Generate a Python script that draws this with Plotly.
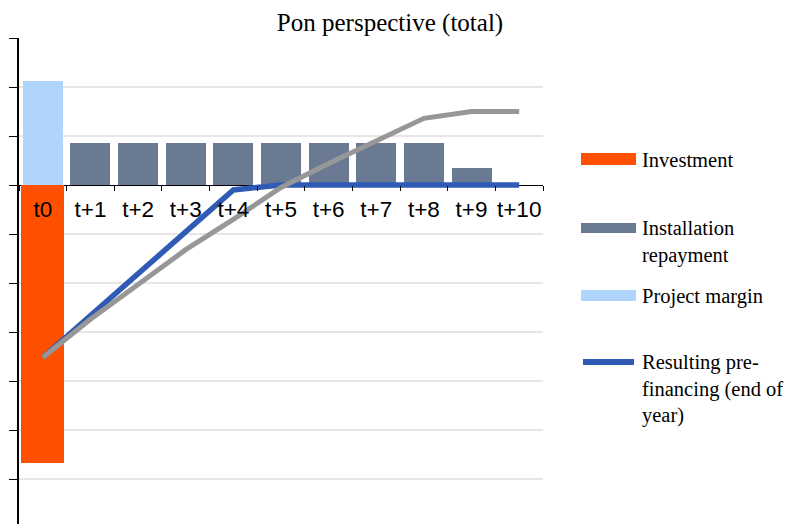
import plotly.graph_objects as go

# ---- data ----
categories = ["t0", "t+1", "t+2", "t+3", "t+4", "t+5", "t+6", "t+7", "t+8", "t+9", "t+10"]
investment = [-5.67, None, None, None, None, None, None, None, None, None, None]
installation_repayment = [None, 0.86, 0.86, 0.86, 0.86, 0.86, 0.86, 0.86, 0.86, 0.34, None]
project_margin = [2.12, None, None, None, None, None, None, None, None, None, None]
pre_financing = [-3.52, -2.66, -1.83, -0.97, -0.10, 0, 0, 0, 0, 0, 0]
cumulative = [-3.52, -2.74, -2.03, -1.32, -0.70, -0.05, 0.44, 0.90, 1.36, 1.50, 1.50]

legend_labels = ["Investment", "Installation<br>repayment", "Project margin",
                 "Resulting pre-<br>financing (end of<br>year)"]
title_text = "Pon perspective (total)"

# ---- styles ----
C_INV = "#FF5000"
C_INST = "#6A7A92"
C_MARGIN = "#AFD5FC"
C_BLUE = "#2F5BB5"
C_GRAY = "#979797"
SERIF = "Liberation Serif, Times New Roman, serif"
SANS = "Liberation Sans, Arial, sans-serif"

W, H = 797, 524
ML, MR, MT, MB = 19, 254, 38, 0
Y_MIN, Y_MAX = -6.918, 3

fig = go.Figure()
fig.add_trace(go.Bar(x=categories, y=investment, name="Investment",
                     marker=dict(color=C_INV, line=dict(width=0)), width=0.9,
                     showlegend=False))
fig.add_trace(go.Bar(x=categories, y=project_margin, name="Project margin",
                     marker=dict(color=C_MARGIN, line=dict(width=0)), width=0.84,
                     showlegend=False))
fig.add_trace(go.Bar(x=categories, y=installation_repayment, name="Installation repayment",
                     marker=dict(color=C_INST, line=dict(width=0)), width=0.84,
                     showlegend=False))
fig.add_trace(go.Scatter(x=categories, y=pre_financing, mode="lines",
                         name="Resulting pre-financing (end of year)",
                         line=dict(color=C_BLUE, width=5.5), showlegend=False))
fig.add_trace(go.Scatter(x=categories, y=cumulative, mode="lines", name="Cumulative",
                         line=dict(color=C_GRAY, width=5), showlegend=False))

zero_pos = (0 - Y_MIN) / (Y_MAX - Y_MIN)

fig.update_layout(
    width=W, height=H,
    margin=dict(l=ML, r=MR, t=MT, b=MB, pad=0),
    paper_bgcolor="white", plot_bgcolor="white",
    barmode="relative", bargap=0,
    showlegend=False,
    title=dict(text=title_text, x=390 / W, xref="container", xanchor="center",
               y=1 - 22 / H, yref="container", yanchor="middle",
               font=dict(family=SERIF, size=25, color="black")),
    xaxis=dict(type="category", anchor="free", position=zero_pos,
               showline=False, showgrid=False, zeroline=False,
               ticks="outside", ticklen=5, tickwidth=1.3, tickcolor="black",
               tickson="boundaries", ticklabelstandoff=8, tickangle=0,
               tickfont=dict(family=SANS, size=22.5, color="black"),
               range=[-0.5, 10.5]),
    yaxis=dict(range=[Y_MIN, Y_MAX], dtick=1, tick0=0,
               showticklabels=False, ticks="outside", ticklen=8, tickwidth=1.3,
               tickcolor="black", showline=True, linecolor="black", linewidth=1.5,
               showgrid=True, gridcolor="#E6E6E6", gridwidth=1.5,
               zeroline=True, zerolinecolor="black", zerolinewidth=1.3),
)

# ---- manual legend (right side) ----
pw = W - ML - MR
ph = H - MT - MB

def px_x(x):
    return (x - ML) / pw

def px_y(y):
    return (H - MB - y) / ph

sw_x0, sw_x1 = 581, 636
swatches = [
    (C_INV, 153, 165),
    (C_INST, 223, 233),
    (C_MARGIN, 290, 301),
]
for col, y0, y1 in swatches:
    fig.add_shape(type="rect", xref="paper", yref="paper",
                  x0=px_x(sw_x0), x1=px_x(sw_x1), y0=px_y(y1), y1=px_y(y0),
                  fillcolor=col, line=dict(width=0))
fig.add_shape(type="line", xref="paper", yref="paper",
              x0=px_x(sw_x0 + 2), x1=px_x(sw_x1 - 2), y0=px_y(362), y1=px_y(362),
              line=dict(color=C_BLUE, width=6))

text_tops = [147, 215, 283, 349]
for label, top in zip(legend_labels, text_tops):
    fig.add_annotation(text=label, xref="paper", yref="paper",
                       x=px_x(640), y=px_y(top), xanchor="left", yanchor="top",
                       align="left", showarrow=False,
                       font=dict(family=SERIF, size=20.5, color="black"))

fig.write_html("out.html")
